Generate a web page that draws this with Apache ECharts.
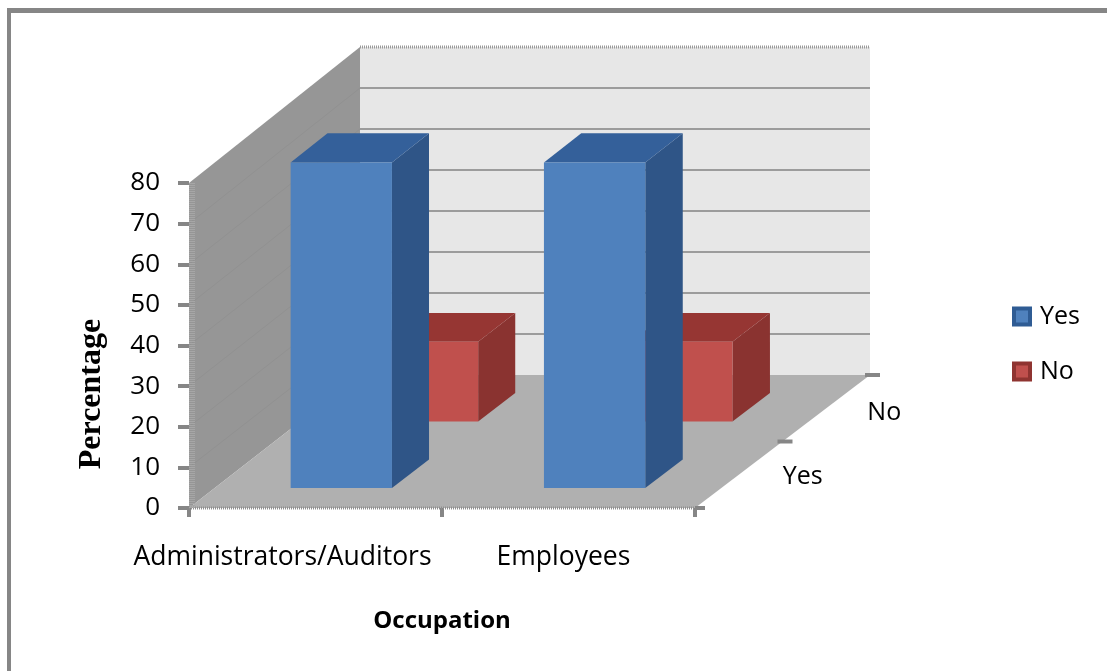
<!DOCTYPE html>
<html>
<head>
<meta charset="utf-8">
<style>html,body{margin:0;padding:0;background:#fff}#c{width:1107px;height:671px}</style>
<script src="https://cdn.jsdelivr.net/npm/echarts@6/dist/echarts.min.js"></script>
</head>
<body>
<div id="c"></div>
<script>
const occupations = ['Administrators/Auditors', 'Employees'];
const depthCategories = ['Yes', 'No'];
const yesValues = [80, 80];
const noValues = [19.5, 19.5];
const yTicks = [0, 10, 20, 30, 40, 50, 60, 70, 80];
const labelFont = '"Open Sans"';

const BAR_W = 0.4, BAR_D = 0.215;
const TICK = '#868686';

function projector(params) {
  const g = params.coordSys;
  return function (px, py, z) {
    const u = (px - g.x) / g.width, v = (g.y + g.height - py) / g.height;
    return [px + z * (171 + 4 * u), py - z * (133 + 3 * v)];
  };
}
function poly(points, fill) {
  return { type: 'polygon', shape: { points }, style: { fill, stroke: null } };
}
function seg(a, b, stroke, lineWidth, lineDash) {
  return { type: 'line', shape: { x1: a[0], y1: a[1], x2: b[0], y2: b[1] },
    style: { stroke, lineWidth, lineDash: lineDash || null, fill: null } };
}
function renderWalls(params, api) {
  const g = params.coordSys, P = projector(params);
  const xL = g.x, xR = g.x + g.width, yB = g.y + g.height, yT = g.y;
  const kids = [
    poly([P(xL, yT, 1), P(xR, yT, 1), P(xR, yB, 1), P(xL, yB, 1)], '#e7e7e7'),
    poly([P(xL, yT, 0), P(xL, yT, 1), P(xL, yB, 1), P(xL, yB, 0)], '#969696'),
    poly([P(xL, yB, 0), P(xL, yB, 1), P(xR, yB, 1), P(xR, yB, 0)], '#b0b0b0')
  ];
  yTicks.forEach(function (t) {
    const y = api.coord([0, t])[1];
    if (t > 0 && t < yTicks[yTicks.length - 1]) {
      kids.push(seg(P(xL, y, 0), P(xL, y, 1), '#919191', 1));
      kids.push(seg(P(xL, y, 1), P(xR, y, 1), '#9c9c9c', 2));
    }
  });
  kids.push(seg(P(xL, yT, 1), P(xR, yT, 1), '#9a9a9a', 3, [1, 1]));
  kids.push(seg(P(xL, yB, 0), P(xR, yB, 0), '#8f8f8f', 3, [1, 1]));
  kids.push(seg(P(xL + 3, yT, 0), P(xL + 3, yB, 0), '#a6a6a6', 6, [1, 1]));
  // depth axis ticks and labels
  [0, 0.5, 1].forEach(function (z) {
    const p = P(xR, yB, z);
    kids.push(seg([p[0] - (z === 0 ? 0 : 5), p[1]], [p[0] + 10, p[1]], TICK, 4));
  });
  depthCategories.forEach(function (name, i) {
    const p = P(xR, yB, 0.25 + 0.5 * i);
    kids.push({ type: 'text', style: { x: p[0] + 64 - 6 * i, y: p[1] + 2 + 3 * i, text: name, fill: '#000',
      font: '25px ' + labelFont, textAlign: 'center', textVerticalAlign: 'middle' } });
  });
  return { type: 'group', children: kids };
}
function boxRenderer(z0, front, top, side) {
  return function (params, api) {
    const P = projector(params);
    const c = api.coord([api.value(0), 0]);
    const yv = api.coord([api.value(0), api.value(1)])[1];
    const w = api.size([1, 0])[0] * BAR_W;
    const l = c[0] - w / 2, r = c[0] + w / 2, b = c[1];
    const z1 = z0 + BAR_D;
    return { type: 'group', children: [
      poly([P(r, yv, z0), P(r, yv, z1), P(r, b, z1), P(r, b, z0)], side),
      poly([P(l, yv, z0), P(l, yv, z1), P(r, yv, z1), P(r, yv, z0)], top),
      poly([P(l, yv, z0), P(r, yv, z0), P(r, b, z0), P(l, b, z0)], front)
    ] };
  };
}
const toData = function (vals) { return vals.map(function (v, i) { return [i, v]; }); };

const chart = echarts.init(document.getElementById('c'), null, { renderer: 'canvas' });
chart.setOption({
  animation: false,
  backgroundColor: '#fff',
  grid: { left: 189, width: 506, top: 183, height: 325, containLabel: false },
  legend: {
    left: 1012, top: 304, orient: 'vertical', padding: 0, itemWidth: 16, itemHeight: 16, itemGap: 30,
    selectedMode: false, icon: 'rect',
    textStyle: { fontFamily: labelFont, fontSize: 25, color: '#000', padding: [0, 0, 0, 5] },
    data: [
      { name: 'Yes', itemStyle: { color: '#4f81bd', borderColor: '#2f5c94', borderWidth: 4 } },
      { name: 'No', itemStyle: { color: '#c0504d', borderColor: '#8f3431', borderWidth: 4 } }
    ]
  },
  xAxis: {
    type: 'category', data: occupations, boundaryGap: true,
    name: 'Occupation', nameLocation: 'middle', nameGap: 101,
    nameTextStyle: { fontFamily: labelFont, fontSize: 24, fontWeight: 'bold', color: '#000' },
    axisLine: { show: false },
    axisTick: { show: true, length: 9, lineStyle: { color: TICK, width: 4 } },
    axisLabel: {
      interval: 0, margin: 36, hideOverlap: false,
      formatter: function (v, i) { return '{' + (i === 0 ? 'a' : 'b') + '|' + v + '}'; },
      rich: {
        a: { fontFamily: labelFont, fontSize: 26.5, color: '#000', padding: [0, 66, 0, 0] },
        b: { fontFamily: labelFont, fontSize: 26.5, color: '#000', padding: [0, 10, 0, 0] }
      }
    },
    splitLine: { show: false }
  },
  yAxis: {
    type: 'value', min: 0, max: 80, interval: 10,
    axisLine: { show: false },
    axisTick: { show: true, length: 11, lineStyle: { color: TICK, width: 4 } },
    axisLabel: { margin: 29, fontFamily: labelFont, fontSize: 26, color: '#000' },
    splitLine: { show: false }
  },
  graphic: [
    { type: 'rect', silent: true, shape: { x: 7, y: 8, width: 1100, height: 5 }, style: { fill: '#868686' } },
    { type: 'rect', silent: true, shape: { x: 7, y: 8, width: 4, height: 663 }, style: { fill: '#868686' } },
    { type: 'text', silent: true, x: 92, y: 394, rotation: Math.PI / 2,
      style: { text: 'Percentage', fill: '#000', font: 'bold 32px "Liberation Serif"', textAlign: 'center', textVerticalAlign: 'middle' } }
  ],
  series: [
    { name: 'walls', type: 'custom', coordinateSystem: 'cartesian2d', silent: true, z: 1,
      renderItem: renderWalls, data: [[0, 0]], encode: { x: 0, y: 1 } },
    { name: 'No', type: 'custom', coordinateSystem: 'cartesian2d', z: 2,
      itemStyle: { color: '#c0504d' },
      renderItem: boxRenderer(0.65, '#c0504d', '#963633', '#8a3330'),
      data: toData(noValues), encode: { x: 0, y: 1 } },
    { name: 'Yes', type: 'custom', coordinateSystem: 'cartesian2d', z: 3,
      itemStyle: { color: '#4f81bd' },
      renderItem: boxRenderer(0.15, '#4f81bd', '#34609a', '#2f5587'),
      data: toData(yesValues), encode: { x: 0, y: 1 } }
  ]
});
</script>
</body>
</html>
